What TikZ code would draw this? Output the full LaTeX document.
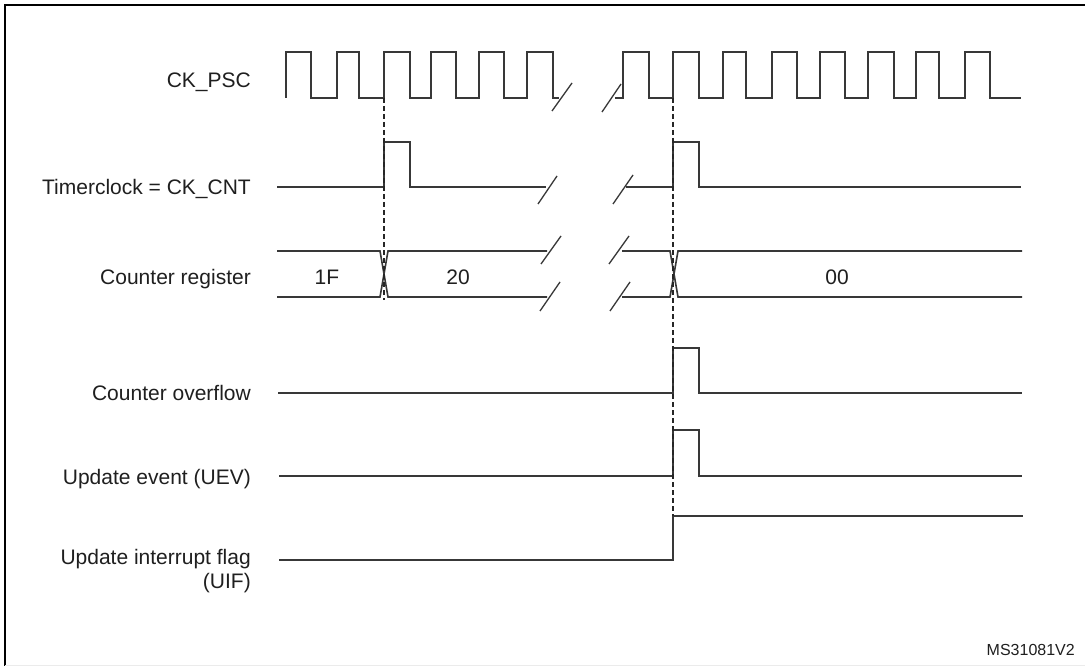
\documentclass[tikz,border=0pt]{standalone}
\usepackage{fontspec}
\setmainfont{Liberation Sans}
\begin{document}
\begin{tikzpicture}[x=1pt,y=-1pt,
  sig/.style={draw=black!78,line width=1.6pt,line join=miter},
  brk/.style={draw=black!78,line width=1.3pt},
  guide/.style={draw=black!85,line width=1.4pt,dash pattern=on 5pt off 3pt},
  lbl/.style={anchor=base east,inner sep=0pt,font=\fontsize{21}{24}\selectfont,text=black!88},
  val/.style={anchor=base,inner sep=0pt,font=\fontsize{21}{24}\selectfont,text=black!88}]
\useasboundingbox (0,0) rectangle (1085,666);
\fill[white] (0,0) rectangle (1085,666);
% frame
\draw[line width=2.2pt,black] (5,667) -- (5,5) -- (1086,5);
\draw[line width=0.6pt,black!8] (5,665) -- (1085,665);

% labels
\node[lbl] (lpsc) at (251,88) {CK\_PSC};
\node[lbl] (lcnt) at (251,195) {Timerclock = CK\_CNT};
\node[lbl] (lreg) at (251,284) {Counter register};
\node[lbl] (lovf) at (251,400) {Counter overflow};
\node[lbl] (luev) at (251,484) {Update event (UEV)};
\node[lbl] (luif) at (251,564) {Update interrupt flag};
\node[lbl] (luif2) at (251,588) {(UIF)};
\node[anchor=base east,inner sep=0pt,font=\fontsize{16}{18}\selectfont,text=black!88] (ref) at (1075,655) {MS31081V2};

% values
\node[val] (v1f) at (327,284) {1F};
\node[val] (v20) at (458,284) {20};
\node[val] (v00) at (837,284) {00};

% CK_PSC
\draw[sig] (286,98) -- (286,52) -- (311,52) -- (311,98) -- (337,98) -- (337,52) -- (359,52) -- (359,98)
  -- (384,98) -- (384,52) -- (410,52) -- (410,98) -- (431,98) -- (431,52) -- (456,52) -- (456,98)
  -- (479,98) -- (479,52) -- (504,52) -- (504,98) -- (527,98) -- (527,52) -- (553,52) -- (553,98) -- (559,98);
\draw[sig] (615,98) -- (623,98) -- (623,52) -- (649,52) -- (649,98) -- (673,98) -- (673,52) -- (699,52) -- (699,98)
  -- (723,98) -- (723,52) -- (746,52) -- (746,98) -- (772,98) -- (772,52) -- (797,52) -- (797,98)
  -- (820,98) -- (820,52) -- (845,52) -- (845,98) -- (868,98) -- (868,52) -- (894,52) -- (894,98)
  -- (916,98) -- (916,52) -- (939,52) -- (939,98) -- (965,98) -- (965,52) -- (990,52) -- (990,98) -- (1021,98);
\draw[brk] (552,111) -- (572,83);
\draw[brk] (602,112) -- (621,84);

% Timerclock
\draw[sig] (277,187) -- (384,187) -- (384,142) -- (410,142) -- (410,187) -- (546,187);
\draw[sig] (626,187) -- (673,187) -- (673,142) -- (699,142) -- (699,187) -- (1021,187);
\draw[brk] (538,204) -- (557,176);
\draw[brk] (613,204) -- (633,175);

% Counter register
\draw[sig] (277,251) -- (380,251) -- (388,297) -- (547,297);
\draw[sig] (277,297) -- (380,297) -- (388,251) -- (547,251);
\draw[sig] (622,251) -- (670,251) -- (678,297) -- (1022,297);
\draw[sig] (622,297) -- (670,297) -- (678,251) -- (1022,251);
\draw[brk] (541,264) -- (561,236);
\draw[brk] (540,311) -- (560,282);
\draw[brk] (609,264) -- (629,236);
\draw[brk] (610,311) -- (630,282);

% Counter overflow
\draw[sig] (278,393) -- (673,393) -- (673,348) -- (699,348) -- (699,393) -- (1022,393);
% UEV
\draw[sig] (279,476) -- (673,476) -- (673,430) -- (699,430) -- (699,476) -- (1022,476);
% UIF
\draw[sig] (279,560) -- (673,560) -- (673,516) -- (1023,516);

% guides
\draw[guide] (384,98) -- (384,300);
\draw[guide] (673,98) -- (673,516);
\end{tikzpicture}
\end{document}
